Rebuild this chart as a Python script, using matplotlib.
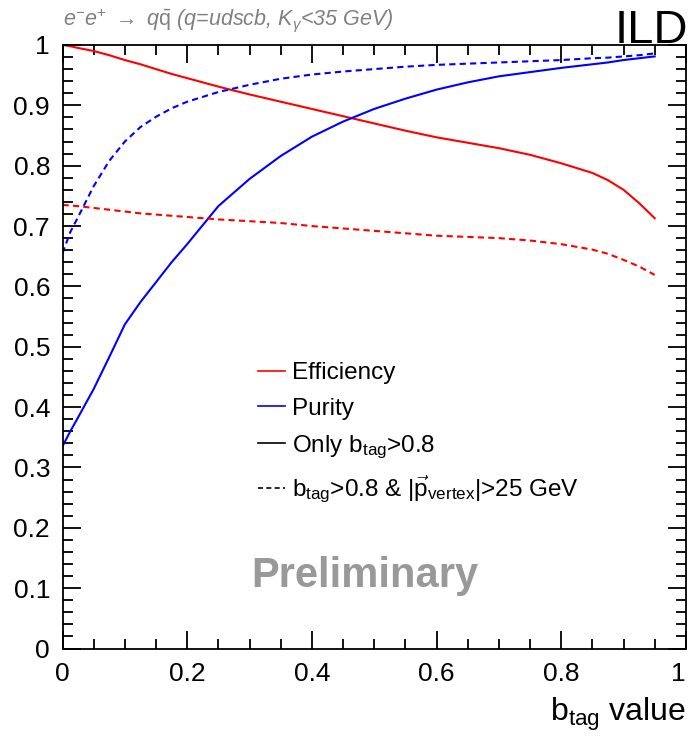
import matplotlib
matplotlib.use("Agg")
import matplotlib.pyplot as plt
from matplotlib.lines import Line2D
from matplotlib.ticker import MultipleLocator

plt.rcParams['font.family'] = ['Liberation Sans', 'DejaVu Sans']
plt.rcParams['mathtext.fontset'] = 'custom'
plt.rcParams['mathtext.rm'] = 'Liberation Sans'
plt.rcParams['mathtext.it'] = 'Liberation Sans:italic'
plt.rcParams['mathtext.bf'] = 'Liberation Sans:bold'

# b_tag cut values
btag = [0, 0.0125, 0.025, 0.05, 0.075, 0.1, 0.125, 0.15, 0.175, 0.2, 0.25, 0.3, 0.35,
        0.4, 0.45, 0.5, 0.55, 0.6, 0.65, 0.7, 0.75, 0.8, 0.85, 0.875, 0.9, 0.925, 0.95]

# only b_tag>0.8
eff_only = [1.0, 0.998, 0.995, 0.990, 0.983, 0.975, 0.968, 0.960, 0.952, 0.945, 0.931, 0.918, 0.906,
            0.894, 0.882, 0.870, 0.858, 0.847, 0.838, 0.829, 0.818, 0.804, 0.788, 0.776, 0.760, 0.738, 0.713]
pur_only = [0.335, 0.360, 0.383, 0.430, 0.483, 0.537, 0.574, 0.607, 0.640, 0.670, 0.733, 0.778, 0.816,
            0.848, 0.873, 0.894, 0.911, 0.926, 0.938, 0.948, 0.955, 0.962, 0.968, 0.971, 0.975, 0.978, 0.981]

# b_tag>0.8 & |p_vertex|>25 GeV
eff_cut = [0.735, 0.734, 0.733, 0.730, 0.727, 0.724, 0.721, 0.719, 0.717, 0.715, 0.711, 0.708, 0.705,
           0.700, 0.696, 0.692, 0.688, 0.684, 0.682, 0.680, 0.676, 0.670, 0.661, 0.654, 0.644, 0.633, 0.619]
pur_cut = [0.655, 0.690, 0.715, 0.766, 0.808, 0.840, 0.864, 0.881, 0.895, 0.906, 0.922, 0.934, 0.944,
           0.951, 0.956, 0.960, 0.964, 0.967, 0.969, 0.971, 0.973, 0.975, 0.978, 0.979, 0.981, 0.983, 0.986]

xtick_labels = ['0', '0.2', '0.4', '0.6', '0.8', '1']
ytick_labels = ['0', '0.1', '0.2', '0.3', '0.4', '0.5', '0.6', '0.7', '0.8', '0.9', '1']

fig = plt.figure(figsize=(6.9, 7.37), dpi=100)
ax = fig.add_axes([0.0906, 0.12, 0.9034, 0.819])

lw = 1.5
dash = (0, (3, 2))
ax.plot(btag, eff_only, color='#ff0000', lw=lw)
ax.plot(btag, pur_only, color='#0000ff', lw=lw)
ax.plot(btag, eff_cut, color='#ff0000', lw=lw, linestyle=dash)
ax.plot(btag, pur_cut, color='#0000ff', lw=lw, linestyle=dash)

ax.set_xlim(0, 1)
ax.set_ylim(0, 1)
ax.xaxis.set_minor_locator(MultipleLocator(0.05))
ax.yaxis.set_minor_locator(MultipleLocator(0.02))
ax.set_xticks([0, 0.2, 0.4, 0.6, 0.8, 1])
ax.set_xticklabels(xtick_labels)
ax.set_yticks([i / 10 for i in range(11)])
ax.set_yticklabels(ytick_labels)
ax.get_xticklabels()[-1].set_horizontalalignment('right')
ax.tick_params(which='both', direction='in', top=True, right=True, width=1.3, labelsize=19)
ax.tick_params(which='major', length=13)
ax.tick_params(which='minor', length=7.5)
ax.tick_params(axis='x', pad=10)
ax.tick_params(axis='y', pad=9)
for s in ax.spines.values():
    s.set_linewidth(1.3)

ax.set_xlabel(r'b$_{\rm tag}$ value', fontsize=23, loc='right', labelpad=7)

handles = [Line2D([], [], color='#ff0000', lw=1.2),
           Line2D([], [], color='#0000ff', lw=1.2),
           Line2D([], [], color='black', lw=1.2),
           Line2D([], [], color='black', lw=1.2, linestyle=(0, (3, 2)))]
labels = ['Efficiency', 'Purity', r'Only b$_{\rm tag}$>0.8',
          r'b$_{\rm tag}$>0.8 & |$\vec{\rm p}_{\rm vertex}$|>25 GeV']
ax.legend(handles, labels, loc='upper left', bbox_to_anchor=(0.3135, 0.474), frameon=False,
          fontsize=17.5, handlelength=1.1, handletextpad=0.3, labelspacing=0.55,
          borderpad=0, borderaxespad=0)

fig.text(0.091, 0.966, r'e$^{-}$e$^{+}$ $\rightarrow$ q$\bar{\rm q}$ (q=udscb, K$_{\gamma}$<35 GeV)',
         fontsize=15.5, color='#808080', style='italic', ha='left', va='baseline')
fig.text(0.997, 0.941, 'ILD', fontsize=34, ha='right', va='baseline')
ax.text(0.485, 0.12, 'Preliminary', transform=ax.transAxes, fontsize=30, fontweight='bold',
        color='#999999', ha='center', va='center')

fig.savefig('out.png', dpi=100)
